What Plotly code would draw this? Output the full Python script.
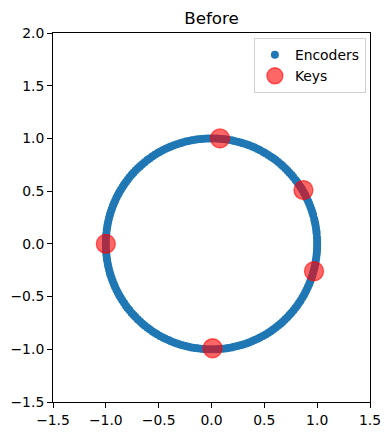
import numpy as np
import plotly.graph_objects as go

# Encoder angles (degrees) read around the unit circle
encoder_angles = [
    0.4, 2.1, 3.5, 5.8, 7.2, 8.9, 10.6, 12.3, 13.7, 15.9, 17.4, 19.0, 20.8, 22.5, 23.9, 25.7, 27.6, 29.1,
    30.8, 32.4, 34.0, 35.9, 37.3, 39.2, 40.7, 42.5, 44.1, 45.8, 47.6, 49.0, 50.9, 52.6, 54.2, 55.8, 57.5,
    59.3, 60.7, 62.6, 64.1, 65.9, 67.4, 69.2, 70.8, 72.7, 74.1, 75.8, 77.6, 79.0, 80.9, 82.4, 84.2, 85.9,
    87.3, 89.1, 90.8, 92.4, 94.0, 95.7, 97.5, 99.0, 100.8, 102.5, 104.1, 105.9, 107.3, 109.1, 110.8, 112.6,
    114.0, 115.7, 117.5, 119.2, 120.6, 122.4, 124.1, 125.9, 127.4, 129.2, 130.9, 132.5, 134.0, 135.8, 137.6,
    139.1, 140.9, 142.5, 144.2, 145.8, 147.3, 149.1, 150.9, 152.4, 154.1, 155.8, 157.5, 159.0, 160.8, 162.6,
    164.1, 165.7, 167.5, 169.2, 170.7, 172.5, 174.3, 175.8, 177.4, 179.2, 180.9, 182.5, 184.0, 185.8, 187.6,
    189.1, 190.9, 192.4, 194.2, 195.9, 197.3, 199.1, 200.8, 202.6, 204.0, 205.8, 207.5, 209.1, 210.8, 212.4,
    214.2, 215.9, 217.4, 219.1, 220.9, 222.5, 224.0, 225.8, 227.5, 229.2, 230.7, 232.5, 234.1, 235.9, 237.4,
    239.0, 240.8, 242.6, 244.1, 245.9, 247.4, 249.2, 250.9, 252.5, 254.0, 255.8, 257.4, 259.1, 260.9, 262.4,
    264.2, 265.8, 267.5, 269.1, 270.8, 272.6, 274.0, 275.8, 277.5, 279.1, 280.9, 282.4, 284.2, 285.9, 287.4,
    289.2, 290.8, 292.5, 294.1, 295.9, 297.3, 299.1, 300.8, 302.6, 304.1, 305.7, 307.5, 309.2, 310.8, 312.4,
    314.1, 315.9, 317.5, 319.0, 320.8, 322.5, 324.1, 325.8, 327.4, 329.2, 330.9, 332.5, 334.0, 335.8, 337.5,
    339.1, 340.9, 342.4, 344.2, 345.8, 347.5, 349.1, 350.8, 352.4, 354.2, 355.9, 357.5, 359.1,
]

keys_x = [0.08, 0.87, 0.97, 0.01, -1.0]
keys_y = [1.0, 0.51, -0.26, -0.99, 0.0]

x_ticks = [-1.5, -1.0, -0.5, 0.0, 0.5, 1.0, 1.5]
y_ticks = [-1.5, -1.0, -0.5, 0.0, 0.5, 1.0, 1.5, 2.0]

theta = np.deg2rad(np.array(encoder_angles))
enc_x = np.cos(theta)
enc_y = np.sin(theta)

FONT = "DejaVu Sans"

fig = go.Figure()
fig.add_trace(go.Scatter(
    x=enc_x, y=enc_y, mode="markers", name="Encoders",
    marker=dict(color="#1f77b4", size=8, line=dict(width=0)),
))
fig.add_trace(go.Scatter(
    x=keys_x, y=keys_y, mode="markers", name="Keys",
    marker=dict(color="rgba(255,0,0,0.6)", size=19,
                line=dict(color="rgba(255,0,0,0.6)", width=1.3)),
))

axis_common = dict(
    showgrid=False, zeroline=False, showline=True, linecolor="black", linewidth=1,
    mirror=True, ticks="outside", ticklen=5, tickwidth=1, tickcolor="black",
    tickfont=dict(family=FONT, size=13.9, color="black"), tickformat=".1f",
    automargin=False,
)

fig.update_layout(
    width=383, height=427,
    margin=dict(l=45, r=21, t=25, b=33),
    paper_bgcolor="white", plot_bgcolor="white",
    title=dict(text="Before", x=0.5, xref="paper", xanchor="center", y=1 - 10 / 427, yref="container",
               yanchor="middle", font=dict(family=FONT, size=16.7, color="black")),
    xaxis=dict(range=[-1.5, 1.5], tickvals=x_ticks, **axis_common),
    yaxis=dict(range=[-1.5, 2.0], tickvals=y_ticks, **axis_common),
    legend=dict(x=0.987, y=0.986, xanchor="right", yanchor="top",
                bgcolor="rgba(255,255,255,0.8)", bordercolor="#d0d0d0", borderwidth=1,
                font=dict(family=FONT, size=13.9, color="black"),
                itemsizing="trace", tracegroupgap=0),
    showlegend=True,
)

fig.write_html("out.html")
